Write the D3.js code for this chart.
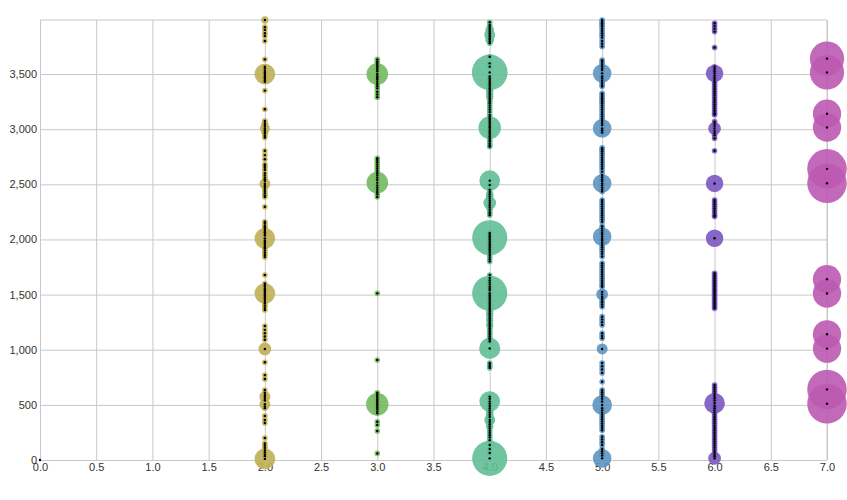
<!DOCTYPE html>
<html><head><meta charset="utf-8">
<script src="https://cdn.jsdelivr.net/npm/d3@7"></script>
<style>
body{margin:0;background:#fff;}
text{font-family:"Liberation Sans",Arial,sans-serif;}
</style></head>
<body><svg id="c" width="847" height="500"></svg>
<script>
// Categories (x positions) and colours
const categories = [2, 3, 4, 5, 6, 7];
const colors = ["#c0af57", "#72b95e", "#60be95", "#5c93c2", "#7a58c2", "#bc59b1"];
const xTicks = [0,0.5,1,1.5,2,2.5,3,3.5,4,4.5,5,5.5,6,6.5,7];
const yTicks = [0,500,1000,1500,2000,2500,3000,3500];

// Series: [value, size] per point
const pts2 = [[3990,2],[3925,1],[3900,1],[3870,1],[3845,1],[3800,1],[3633,1],
 [3566,1],[3550,1],[3530,1],[3515,1],[3500,20],[3485,1],[3470,1],[3455,1],[3440,1],[3430,1],
 [3350,1],[3180,1],[3075,1],[3055,1],[3040,2],[3025,1],[3007,4],[2990,1],[2975,2],[2960,1],[2940,1],[2925,1],
 [2805,1],[2765,1],[2727,1],[2680,1],[2665,1],[2650,1],[2630,1],[2600,1],[2580,1],[2560,1],[2545,1],[2530,1],
 [2505,5],[2490,1],[2475,1],[2460,1],[2440,1],[2420,1],[2400,1],[2385,1],[2297,1],
 [2160,1],[2145,1],[2125,1],[2110,1],[2095,1],[2080,1],[2065,1],[2050,1],[2035,1],[2010,20],[1990,1],[1975,1],
 [1960,1],[1945,1],[1930,1],[1920,1],[1900,1],[1880,1],[1860,1],[1840,1],
 [1677,1],[1600,1],[1585,1],[1570,1],[1555,1],[1540,1],[1525,1],[1510,20],[1495,1],[1480,1],[1465,1],[1450,1],
 [1435,1],[1420,1],[1400,1],[1380,1],[1360,1],[1215,1],[1180,1],[1150,1],[1120,1],[1090,1],[1007,7],
 [886,1],[770,1],[734,1],[635,1],[610,1],[590,1],[574,5],[555,1],[540,1],[505,5],[485,1],[470,1],
 [400,1],[363,1],[335,1],[200,1],[150,1],[130,1],[110,1],[90,1],[70,1],[50,1],[35,1],[10,20]];
const pts3 = [[3633,1],[3615,1],[3600,1],[3585,1],[3570,1],[3555,1],[3540,1],[3525,1],[3500,22],[3480,1],
 [3465,1],[3450,1],[3430,1],[3410,1],[3390,1],[3370,1],[3340,1],[3315,1],[3290,1],
 [2737,1],[2720,1],[2700,1],[2680,1],[2660,1],[2640,1],[2620,1],[2600,1],[2580,1],[2560,1],[2540,1],
 [2515,22],[2490,1],[2470,1],[2450,1],[2430,1],[2410,1],[2385,1],[1511,1],[907,1],
 [610,1],[595,1],[580,1],[565,1],[550,1],[535,1],[520,1],[505,24],[490,1],[475,1],[460,1],[440,1],[423,1],
 [347,1],[317,1],[263,1],[60,1]];
const pts4 = [[3970,1],[3945,1],[3930,1],[3915,1],[3900,3],[3885,1],[3870,1],[3855,5],[3840,1],[3825,1],
 [3810,3],[3795,1],[3780,1],[3657,1],[3597,1],[3567,1],[3515,63],[3477,1],[3460,1],[3445,1],[3430,1],[3415,1],
 [3400,1],[3385,2],[3370,1],[3355,2],[3340,1],[3325,2],[3310,1],[3295,2],[3280,1],[3265,1],[3250,1],[3235,1],
 [3215,1],[3195,1],[3175,1],[3155,1],[3130,1],[3115,1],[3100,1],[3085,1],[3070,1],[3055,1],[3040,1],[3025,1],
 [3013,24],[2995,1],[2980,1],[2965,1],[2950,1],[2935,1],[2920,1],[2905,1],[2890,1],[2870,1],[2855,1],[2840,1],
 [2533,20],[2494,1],[2450,1],[2430,1],[2410,2],[2390,2],[2370,2],[2350,1],[2330,7],[2310,1],[2290,2],[2270,1],
 [2250,1],[2235,1],[2220,1],[2060,1],[2045,1],[2030,1],[2016,61],[2000,1],[1985,1],[1970,1],[1955,1],[1940,1],
 [1925,1],[1910,1],[1895,1],[1880,1],[1860,1],[1840,1],[1820,1],[1800,1],
 [1677,1],[1650,1],[1630,1],[1610,1],[1590,1],[1570,1],[1555,1],[1540,1],[1512,61],[1495,1],[1480,1],[1465,1],
 [1450,1],[1435,1],[1420,1],[1405,1],[1390,1],[1375,1],[1360,1],[1345,2],[1330,1],[1315,2],[1300,1],[1285,1],
 [1270,2],[1255,1],[1240,1],[1225,2],[1210,1],[1195,1],[1180,1],[1165,1],[1150,1],[1135,1],[1120,1],[1105,1],
 [1090,1],[1075,1],[1012,21],[880,1],[865,1],[850,1],[835,1],
 [575,1],[555,1],[530,20],[510,1],[490,1],[470,1],[450,1],[430,2],[410,2],[390,2],[363,5],[345,2],[325,1],
 [305,2],[285,1],[265,1],[245,1],[225,1],[205,1],[180,1],[136,1],[100,1],[63,1],[15,61]];
const pts5 = [[3990,1],[3975,1],[3960,1],[3945,1],[3930,1],[3910,1],[3890,1],[3870,1],[3850,1],[3830,1],
 [3800,1],[3775,1],[3750,1],[3626,1],[3610,1],[3590,1],[3570,1],[3550,1],[3536,1],[3506,16],[3477,1],[3460,1],
 [3440,1],[3420,1],[3400,1],[3386,1],[3325,1],[3310,1],[3295,1],[3280,1],[3265,1],[3250,1],[3235,1],[3215,1],
 [3195,1],[3175,1],[3155,1],[3135,1],[3115,1],[3095,1],[3075,1],[3055,1],[3037,1],[3007,16],[2990,1],[2970,1],
 [2830,1],[2815,1],[2800,1],[2780,1],[2760,1],[2740,1],[2720,1],[2700,1],[2680,1],[2660,1],[2640,1],[2615,1],
 [2585,1],[2565,1],[2545,1],[2530,1],[2508,16],[2490,1],[2470,1],[2450,1],[2434,1],
 [2358,1],[2340,1],[2320,1],[2300,1],[2280,1],[2260,1],[2240,1],[2220,1],[2200,1],[2180,1],[2161,1],
 [2120,1],[2100,1],[2080,1],[2060,1],[2045,1],[2025,16],[2005,1],[1990,1],[1970,1],[1950,1],[1930,1],[1910,1],
 [1890,1],[1870,1],[1845,1],[1785,1],[1765,1],[1745,1],[1725,1],[1705,1],[1685,1],[1665,1],[1645,1],[1625,1],
 [1605,1],[1585,1],[1570,1],[1525,1],[1502,6],[1480,1],[1470,1],[1450,1],[1430,1],[1410,1],[1390,1],
 [1300,1],[1275,1],[1250,1],[1225,1],[1150,1],[1125,1],[1105,1],[1007,5],[880,1],[850,1],[820,1],[790,1],[710,1],
 [635,1],[615,1],[595,1],[575,1],[555,1],[530,1],[499,18],[470,1],[450,1],[430,1],[410,1],[390,1],[370,1],
 [350,1],[330,1],[310,1],[290,1],[270,1],[211,1],[186,1],[161,1],[136,1],[100,1],[80,1],[60,1],[40,1],[15,16]];
const pts6 = [[3960,1],[3935,1],[3910,1],[3885,1],[3740,1],[3566,1],[3545,1],[3525,1],[3506,14],[3485,1],
 [3465,1],[3445,1],[3425,1],[3405,1],[3385,1],[3365,1],[3345,1],[3325,1],[3305,1],[3285,1],[3265,1],[3245,1],
 [3225,1],[3205,1],[3185,1],[3165,1],[3145,1],[3130,1],[3068,1],[3048,1],[3028,1],[3007,7],[2985,1],[2965,1],
 [2945,1],[2917,1],[2805,1],[2508,14],[2358,1],[2340,1],[2320,1],[2300,1],[2280,1],[2260,1],[2240,1],[2220,1],
 [2207,1],[2011,14],[1693,1],[1675,1],[1660,1],[1645,1],[1630,1],[1615,1],[1600,1],[1585,1],[1570,1],[1555,1],
 [1540,1],[1525,1],[1510,1],[1495,1],[1480,1],[1465,1],[1450,1],[1435,1],[1420,1],[1405,1],[1390,1],[1375,1],
 [680,1],[660,1],[640,1],[620,1],[600,1],[580,1],[560,1],[540,1],[514,20],[490,1],[470,1],[450,1],[430,1],
 [410,1],[390,1],[370,1],[350,1],[330,1],[310,1],[290,1],[270,1],[250,1],[230,1],[210,1],[190,1],[170,1],
 [150,1],[130,1],[110,1],[90,1],[70,1],[50,1],[35,1],[15,7]];
const pts7 = [[3640,58],[3515,58],[3140,39],[3015,39],[2640,78],[2510,78],[1640,39],[1510,39],
 [1140,39],[1010,39],[640,78],[510,78]];
const origin = [[0,0]]; // lone point at x = 0
const seriesPts = [pts2, pts3, pts4, pts5, pts6, pts7];

const W = 847, H = 500, M = {top:20, right:20, bottom:40, left:40};
const svg = d3.select("#c");
const allPts = [];
origin.forEach(p => allPts.push({x:0, y:p[0], s:p[1], c:"#000"}));
seriesPts.forEach((arr, i) => arr.forEach(p => allPts.push({x:categories[i], y:p[0], s:p[1], c:colors[i]})));
const yMax = d3.max(allPts, d => d.y);

const x = d3.scaleLinear().domain([0, 7]).range([M.left, W - M.right]);
const y = d3.scaleLinear().domain([0, yMax]).range([H - M.bottom, M.top]);
const r = d3.scaleSqrt().domain([1, 80]).range([2.8, 20]);

const ih = H - M.top - M.bottom, iw = W - M.left - M.right;
const gx = svg.append("g").attr("transform", `translate(0,${H - M.bottom})`)
  .call(d3.axisBottom(x).tickValues(xTicks).tickFormat(d3.format(".1f")).tickSizeInner(-ih).tickSizeOuter(0).tickPadding(3));
const gy = svg.append("g").attr("transform", `translate(${M.left},0)`)
  .call(d3.axisLeft(y).tickValues(yTicks).tickFormat(d3.format(",")).tickSizeInner(-iw).tickSizeOuter(0).tickPadding(3));
[gx, gy].forEach(g => {
  g.select(".domain").remove();
  g.selectAll(".tick line").attr("stroke", "#c8c8c8");
  g.selectAll(".tick text").attr("fill", "#333").style("font-size", "11px");
});
// frame top/right
svg.append("line").attr("x1", x(0)).attr("x2", x(7)).attr("y1", y(yMax)).attr("y2", y(yMax)).attr("stroke", "#c8c8c8");
svg.append("line").attr("x1", x(7)).attr("x2", x(7)).attr("y1", y(yMax)).attr("y2", y(0)).attr("stroke", "#c8c8c8");

const colorPts = allPts.filter(d => d.s > 0);
svg.append("g").selectAll("circle").data(colorPts).join("circle")
  .attr("cx", d => x(d.x)).attr("cy", d => y(d.y)).attr("r", d => r(d.s))
  .attr("fill", d => d.c).attr("fill-opacity", 0.9);
svg.append("g").selectAll("circle").data(allPts).join("circle")
  .attr("cx", d => x(d.x)).attr("cy", d => y(d.y)).attr("r", 1.2).attr("fill", "#000");
</script></body></html>
